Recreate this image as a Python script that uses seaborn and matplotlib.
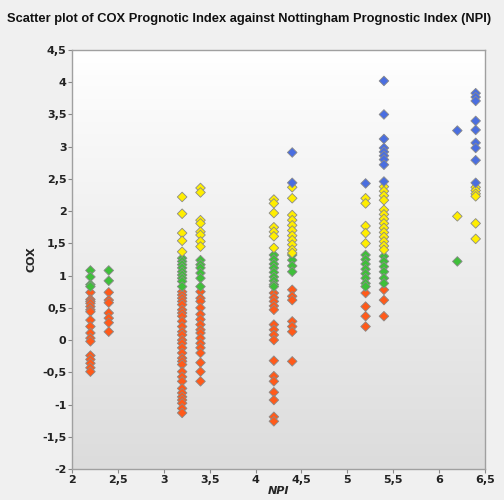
import numpy as np
import pandas as pd
import matplotlib
matplotlib.use("Agg")
import matplotlib.pyplot as plt
import seaborn as sns

# NPI columns and COX values per risk group (one inner list per NPI column)
npi_cols = [2.2, 2.4, 3.2, 3.4, 4.2, 4.4, 5.2, 5.4, 6.2, 6.4]

cox_red = [
    [0.74, 0.63, 0.60, 0.57, 0.52, 0.47, 0.44, 0.31, 0.21, 0.11, 0.03, -0.02,
     -0.24, -0.30, -0.36, -0.43, -0.49],
    [0.74, 0.62, 0.58, 0.42, 0.34, 0.27, 0.13],
    [0.75, 0.70, 0.65, 0.60, 0.55, 0.47, 0.42, 0.37, 0.29, 0.21, 0.13, 0.08,
     0.0, -0.05, -0.12, -0.20, -0.28, -0.33, -0.38, -0.49, -0.57, -0.64,
     -0.75, -0.82, -0.88, -0.93, -0.98, -1.06, -1.13],
    [0.75, 0.65, 0.60, 0.50, 0.40, 0.32, 0.24, 0.16, 0.11, 0.03, -0.05,
     -0.12, -0.20, -0.35, -0.49, -0.64],
    [0.73, 0.66, 0.60, 0.53, 0.47, 0.24, 0.16, 0.08, 0.0, -0.32, -0.56,
     -0.64, -0.81, -0.93, -1.19, -1.26],
    [0.78, 0.68, 0.62, 0.29, 0.21, 0.13, -0.33],
    [0.73, 0.52, 0.37, 0.21],
    [0.78, 0.62, 0.37],
    [],
    [],
]
cox_green = [
    [1.08, 0.98, 0.86, 0.83],
    [1.08, 0.92],
    [1.27, 1.22, 1.17, 1.12, 1.06, 1.01, 0.96, 0.91, 0.83],
    [1.24, 1.17, 1.12, 1.04, 0.96, 0.83],
    [1.32, 1.25, 1.18, 1.12, 1.05, 0.98, 0.92, 0.86, 0.83],
    [1.32, 1.24, 1.15, 1.06],
    [1.32, 1.25, 1.18, 1.10, 1.03, 0.96, 0.88, 0.83],
    [1.30, 1.22, 1.14, 1.06, 0.96, 0.88],
    [1.22],
    [],
]
cox_yellow = [
    [],
    [],
    [2.22, 1.96, 1.66, 1.54, 1.37],
    [2.36, 2.29, 1.86, 1.81, 1.68, 1.63, 1.53, 1.45],
    [2.18, 2.12, 1.97, 1.75, 1.68, 1.61, 1.43],
    [2.37, 2.20, 1.94, 1.86, 1.78, 1.70, 1.62, 1.55, 1.48, 1.40, 1.35],
    [2.20, 2.12, 1.77, 1.66, 1.50],
    [2.38, 2.31, 2.24, 2.17, 2.02, 1.95, 1.88, 1.81, 1.74, 1.67, 1.60, 1.53,
     1.46, 1.40],
    [1.92],
    [2.37, 2.32, 2.27, 2.23, 1.81, 1.57],
]
cox_blue = [
    [], [], [], [], [],
    [2.91, 2.44],
    [2.43],
    [4.02, 3.50, 3.12, 2.98, 2.92, 2.86, 2.80, 2.72, 2.46],
    [3.25],
    [3.83, 3.77, 3.71, 3.40, 3.26, 3.06, 2.98, 2.79, 2.44],
]

x_ticks = [2, 2.5, 3, 3.5, 4, 4.5, 5, 5.5, 6, 6.5]
x_labels = ["2", "2,5", "3", "3,5", "4", "4,5", "5", "5,5", "6", "6,5"]
y_ticks = [-2, -1.5, -1, -0.5, 0, 0.5, 1, 1.5, 2, 2.5, 3, 3.5, 4, 4.5]
y_labels = ["-2", "-1,5", "-1", "-0,5", "0", "0,5", "1", "1,5", "2", "2,5",
            "3", "3,5", "4", "4,5"]

rows = []
for grp, lists in [("red", cox_red), ("green", cox_green),
                   ("yellow", cox_yellow), ("blue", cox_blue)]:
    for npi, vals in zip(npi_cols, lists):
        for v in vals:
            rows.append({"NPI": npi, "COX": v, "group": grp})
df = pd.DataFrame(rows)

palette = {"red": "#ff5a1a", "green": "#3fbf3a", "yellow": "#ffee00", "blue": "#4a6ee0"}

sns.set_style("white")
plt.rcParams["font.family"] = ["DejaVu Sans"]

fig = plt.figure(figsize=(5.04, 5.0), dpi=100, facecolor="#f0f0f0")
ax = fig.add_axes([0.143, 0.062, 0.819, 0.838])

# vertical gradient background: light gray at bottom, white at top
grad = np.linspace(0, 1, 256).reshape(-1, 1)
ax.imshow(grad, extent=[2, 6.5, -2, 4.5], aspect="auto", origin="lower",
          cmap=matplotlib.colors.LinearSegmentedColormap.from_list(
              "bg", ["#dcdcdc", "#ffffff"]), zorder=0)

sns.scatterplot(data=df, x="NPI", y="COX", hue="group", palette=palette,
                marker="D", s=24, edgecolor="#8a8a8a", linewidth=0.6,
                legend=False, ax=ax, zorder=3)

ax.set_xlim(2, 6.5)
ax.set_ylim(-2, 4.5)
ax.set_xticks(x_ticks)
ax.set_xticklabels(x_labels, fontsize=8, fontweight="bold", color="#222222")
ax.set_yticks(y_ticks)
ax.set_yticklabels(y_labels, fontsize=8, fontweight="bold", color="#222222")
ax.tick_params(axis="both", direction="out", length=3, width=0.8,
               color="#888888", pad=1, left=True, bottom=True)
for sp in ax.spines.values():
    sp.set_color("#a0a0a0")
    sp.set_linewidth(1.0)

ax.set_xlabel("NPI", fontsize=8, fontweight="bold", fontstyle="italic", labelpad=1)
ax.set_ylabel("COX", fontsize=8, fontweight="bold", labelpad=4)

fig.text(0.014, 0.962, "Scatter plot of COX Prognotic Index against Nottingham Prognostic Index (NPI)",
         fontsize=9.25, fontweight="bold", family="Liberation Sans", color="#111111",
         ha="left", va="center")

fig.savefig("out.png", dpi=100, facecolor=fig.get_facecolor())
